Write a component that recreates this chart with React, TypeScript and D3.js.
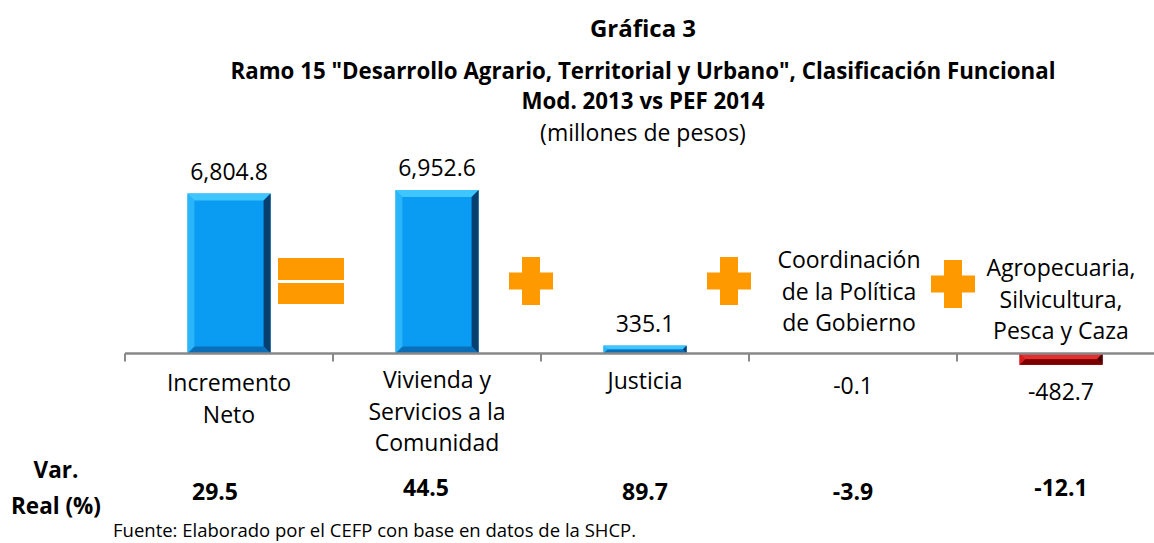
import React from "react";
import * as d3 from "d3";

const categories = ["Incremento Neto", "Vivienda y Servicios a la Comunidad", "Justicia", "Coordinación de la Política de Gobierno", "Agropecuaria, Silvicultura, Pesca y Caza"];
const values = [6804.8, 6952.6, 335.1, -0.1, -482.7];
const valueLabels = ["6,804.8", "6,952.6", "335.1", "-0.1", "-482.7"];
const varReal = ["29.5", "44.5", "89.7", "-3.9", "-12.1"];
const operators = ["=", "+", "+", "+"];

const W = 1154, H = 543;
const FONT = "'Open Sans', 'Noto Sans', sans-serif";

function BevelBar({ x, y, w, h, base, light, dark, darker }: any) {
  const b = Math.min(7, h / 2, w / 2);
  const x2 = x + w, y2 = y + h;
  return (
    <g>
      <rect x={x} y={y} width={w} height={h} fill={base} />
      <polygon points={`${x},${y} ${x2},${y} ${x2 - b},${y + b} ${x + b},${y + b}`} fill={light} />
      <polygon points={`${x2},${y} ${x2},${y2} ${x2 - b},${y2 - b} ${x2 - b},${y + b}`} fill={darker} />
      <polygon points={`${x},${y2} ${x2},${y2} ${x2 - b},${y2 - b} ${x + b},${y2 - b}`} fill={dark} />
      <polygon points={`${x},${y} ${x + b},${y + b} ${x + b},${y2 - b} ${x},${y2}`} fill={light} opacity={0.6} />
    </g>
  );
}

export default function App() {
  const x = d3.scaleBand<string>().domain(categories).range([125, 1165]).paddingInner(0.6).paddingOuter(0.3);
  const y = d3.scaleLinear().domain([-1000, 8000]).range([377.0, 165.4]);
  const y0 = y(0);
  const step = x.step();
  const ticks = d3.range(categories.length + 1).map((i) => 125 + i * step);
  const cx = (c: string) => (x(c) as number) + x.bandwidth() / 2;

  const catLines: string[][] = [["Incremento", "Neto"], ["Vivienda y", "Servicios a la", "Comunidad"], ["Justicia"], ["Coordinación", "de la Política", "de Gobierno"], ["Agropecuaria,", "Silvicultura,", "Pesca y Caza"]];
  const opOffsets = [-11, -10, -20, -4];
  const orange = "#FF9900";
  const LFS = 23;
  const VFS = 23;

  return (
    <svg width={W} height={H} style={{ position: "absolute", left: 0, top: 0, fontFamily: FONT }}>
      <rect width={W} height={H} fill="#fff" />
      <text x={643} y={37} textAnchor="middle" fontWeight="bold" fontSize={24}>Gráfica 3</text>
      <text x={643} y={79} textAnchor="middle" fontWeight="bold" fontSize={22.3}>Ramo 15 "Desarrollo Agrario, Territorial y Urbano", Clasificación Funcional</text>
      <text x={643} y={109} textAnchor="middle" fontWeight="bold" fontSize={22.3}>Mod. 2013 vs PEF 2014</text>
      <text x={643} y={141} textAnchor="middle" fontSize={23}>(millones de pesos)</text>

      {values.map((v, i) => {
        const c = categories[i];
        const top = y(Math.max(0, v));
        const bot = y(Math.min(0, v));
        const neg = v < 0;
        return (
          <BevelBar key={c} x={x(c)} y={top} w={x.bandwidth()} h={Math.max(0, bot - top)}
            base={neg ? "#CC0000" : "#0A9BF2"} light={neg ? "#E03030" : "#3FC6FF"} dark={neg ? "#7A0000" : "#0A6FB8"} darker={neg ? "#4A0000" : "#063F70"} />
        );
      })}

      <line x1={125} x2={W} y1={y0} y2={y0} stroke="#888" strokeWidth={2.5} />
      {ticks.map((t, i) => (
        <line key={i} x1={t} x2={t} y1={y0} y2={y0 + 8} stroke="#888" strokeWidth={2} />
      ))}

      {operators.map((op, i) => {
        const ox = ticks[i + 1] + opOffsets[i];
        if (op === "=") {
          return (
            <g key={i}>
              <rect x={ox - 44} y={258} width={66} height={22} fill={orange} />
              <rect x={ox - 44} y={283} width={66} height={21} fill={orange} />
            </g>
          );
        }
        const cyy = i === 3 ? 284 : 281;
        return (
          <g key={i}>
            <rect x={ox - 22} y={cyy - 8.5} width={44} height={17} fill={orange} />
            <rect x={ox - 9} y={cyy - 24} width={18} height={48} fill={orange} />
          </g>
        );
      })}

      {values.map((v, i) => {
        const c = categories[i];
        const ly = v > 0 ? y(v) - 14 : i === 3 ? 394 : 400;
        return <text key={c} x={cx(c)} y={ly} textAnchor="middle" fontSize={LFS}>{valueLabels[i]}</text>;
      })}

      {catLines.map((lines, i) => {
        const c = categories[i];
        let startY = 391;
        let px = cx(c);
        if (i === 1) startY = 388;
        if (i === 3) { startY = 268; px = cx(c) - 4; }
        if (i === 4) startY = 276;
        if (i === 2) startY = 389;
        return (
          <text key={c} x={px} y={startY} textAnchor="middle" fontSize={LFS}>
            {lines.map((l, k) => <tspan key={k} x={px} dy={k === 0 ? 0 : 31.5}>{l}</tspan>)}
          </text>
        );
      })}

      <text x={56} y={478} textAnchor="middle" fontWeight="bold" fontSize={22.5}>Var.</text>
      <text x={56} y={514} textAnchor="middle" fontWeight="bold" fontSize={22.5}>Real (%)</text>
      {varReal.map((vr, i) => {
        const c = categories[i];
        const offs = [-14, -11, 0, 0, 0];
        const yy = [500, 496, 500, 500, 496];
        return <text key={c} x={cx(c) + offs[i]} y={yy[i]} textAnchor="middle" fontWeight="bold" fontSize={VFS}>{vr}</text>;
      })}

      <text x={113} y={537} fontSize={18.5}>Fuente: Elaborado por el CEFP con base en datos de la SHCP.</text>
    </svg>
  );
}
